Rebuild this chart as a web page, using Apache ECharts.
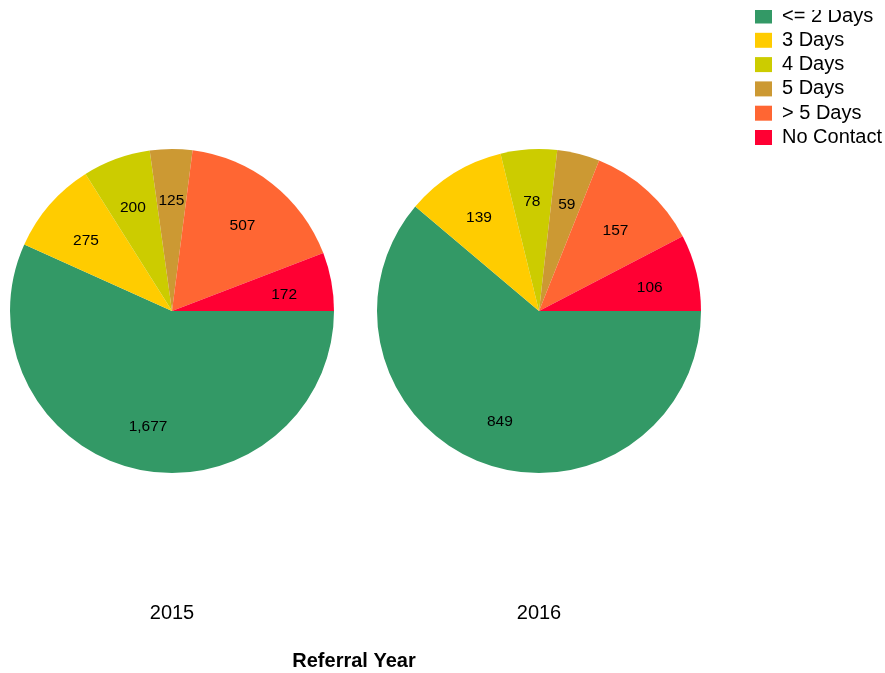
<!DOCTYPE html>
<html>
<head>
<meta charset="utf-8">
<script src="https://cdn.jsdelivr.net/npm/echarts@6/dist/echarts.min.js"></script>
<style>
  html, body { margin: 0; padding: 0; background: #fff; }
  #main { width: 885px; height: 673px; }
</style>
</head>
<body>
<div id="main"></div>
<script>
// 数据
const categories = ['<= 2 Days', '3 Days', '4 Days', '5 Days', '> 5 Days', 'No Contact']
const years = ['2015', '2016']
const values2015 = [1677, 275, 200, 125, 507, 172]
const values2016 = [849, 139, 78, 59, 157, 106]
const colors = ['#339966', '#ffcc00', '#cccc00', '#cc9933', '#ff6633', '#ff0033']

const font = "'Liberation Sans', Arial, sans-serif"
const centers = [[172, 311], [539, 311]]
const R = 162

const toData = vals => vals.map((v, i) => ({ name: categories[i], value: v }))

// 饼图本体
const pieSeries = (vals, idx) => ({
  type: 'pie',
  center: centers[idx],
  radius: [0, R],
  startAngle: 0,
  clockwise: true,
  color: colors,
  label: { show: false },
  labelLine: { show: false },
  emphasis: { scale: false },
  data: toData(vals)
})

// 标签层（透明环，让标签落在约 0.69r 处）
const labelSeries = (vals, idx) => ({
  type: 'pie',
  center: centers[idx],
  radius: [R * 0.37, R],
  startAngle: 0,
  clockwise: true,
  silent: true,
  itemStyle: { color: 'rgba(0,0,0,0)' },
  label: {
    show: true,
    position: 'inside',
    color: '#000',
    fontSize: 15.5,
    fontFamily: font,
    offset: [0, 4],
    formatter: p => p.value.toLocaleString('en-US')
  },
  labelLine: { show: false },
  emphasis: { disabled: true },
  data: toData(vals)
})

const chart = echarts.init(document.getElementById('main'))
chart.setOption({
  animation: false,
  color: colors,
  legend: {
    data: categories,
    orient: 'vertical',
    left: 755,
    top: 6,
    padding: 0,
    itemWidth: 17,
    itemHeight: 15,
    itemGap: 4.3,
    icon: 'rect',
    textStyle: {
      fontSize: 20,
      fontFamily: font,
      color: '#000',
      lineHeight: 20,
      padding: [0, 0, 0, 5]
    }
  },
  title: [
    { text: years[0], left: 172, top: 603, textAlign: 'center', padding: 0,
      textStyle: { fontSize: 20, fontWeight: 'normal', fontFamily: font, color: '#000' } },
    { text: years[1], left: 539, top: 603, textAlign: 'center', padding: 0,
      textStyle: { fontSize: 20, fontWeight: 'normal', fontFamily: font, color: '#000' } },
    { text: 'Referral Year', left: 354, top: 651, textAlign: 'center', padding: 0,
      textStyle: { fontSize: 20, fontWeight: 'bold', fontFamily: font, color: '#000' } }
  ],
  series: [
    pieSeries(values2015, 0),
    pieSeries(values2016, 1),
    labelSeries(values2015, 0),
    labelSeries(values2016, 1)
  ],
  // 原图图例顶部被裁掉一截
  graphic: [
    { type: 'rect', left: 745, top: 0, z: 100, silent: true,
      shape: { width: 140, height: 10 }, style: { fill: '#fff' } }
  ]
})
</script>
</body>
</html>
